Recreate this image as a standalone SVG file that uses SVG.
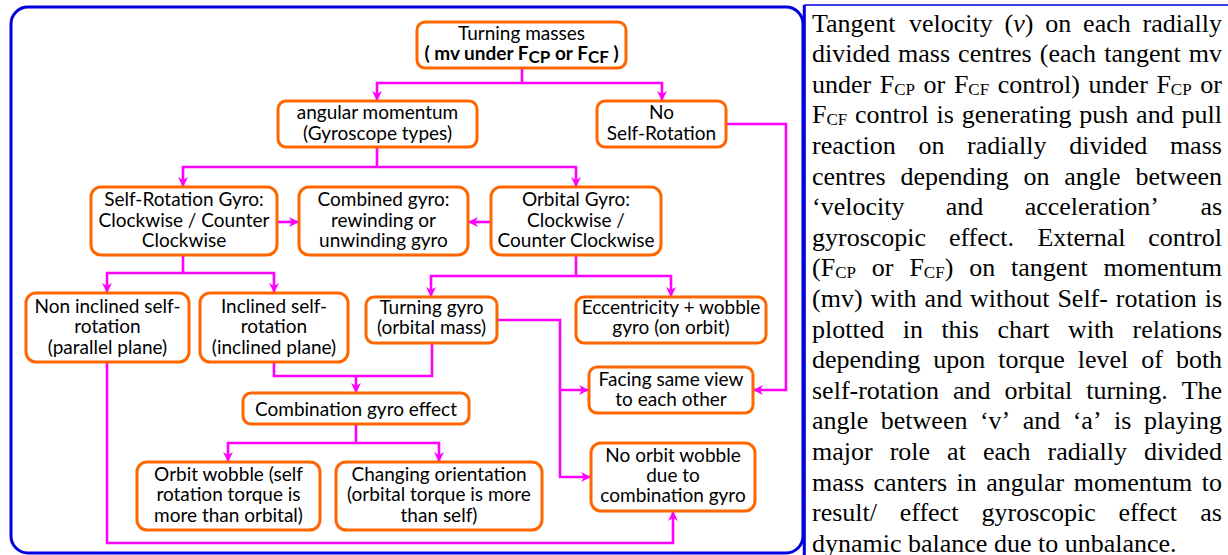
<svg xmlns="http://www.w3.org/2000/svg" width="1228" height="555" viewBox="0 0 1228 555">
<style>
.n{fill:#fff;stroke:#ff6600;stroke-width:3}
.t{font-family:Lato,"Liberation Sans",sans-serif;font-size:19px;fill:#000;text-anchor:middle}
.c{fill:none;stroke:#ff00ff;stroke-width:2.6}
.p{font-family:"Liberation Serif","Times New Roman",serif;font-size:26px;fill:#000}
.s{font-size:17px}
</style>
<defs>
<marker id="ah" markerUnits="userSpaceOnUse" viewBox="0 0 10 10" refX="9" refY="5" markerWidth="10" markerHeight="10" orient="auto">
<path d="M0,0 L10,5 L0,10 L3,5 z" fill="#ff00ff"/>
</marker>
</defs>
<rect width="1228" height="555" fill="#fff"/>
<rect x="11" y="7" width="792" height="546" rx="17" fill="none" stroke="#0000e0" stroke-width="3"/>
<rect x="805" y="5" width="430" height="560" fill="none" stroke="#0000e0" stroke-width="1.5"/>
<line x1="804" y1="5" x2="804" y2="555" stroke="#0000e0" stroke-width="2.5"/>

<g id="connectors">
<path class="c" d="M522,68 V83 H377 V100" marker-end="url(#ah)"/>
<path class="c" d="M522,83 H662 V100" marker-end="url(#ah)"/>
<path class="c" d="M377,147 V167 H183 V186" marker-end="url(#ah)"/>
<path class="c" d="M377,167 H576 V186" marker-end="url(#ah)"/>
<path class="c" d="M277,222 H298" marker-end="url(#ah)"/>
<path class="c" d="M491,222 H469" marker-end="url(#ah)"/>
<path class="c" d="M183,255 V273 H107 V292" marker-end="url(#ah)"/>
<path class="c" d="M183,273 H274 V292" marker-end="url(#ah)"/>
<path class="c" d="M576,255 V276 H431 V296" marker-end="url(#ah)"/>
<path class="c" d="M576,276 H671 V296" marker-end="url(#ah)"/>
<path class="c" d="M726,124 H786 V390 H754" marker-end="url(#ah)"/>
<path class="c" d="M497,320 H560 V390 H588" marker-end="url(#ah)"/>
<path class="c" d="M560,390 V477 H590" marker-end="url(#ah)"/>
<path class="c" d="M274,362 V376 H432 V343"/>
<path class="c" d="M356,376 V392" marker-end="url(#ah)"/>
<path class="c" d="M356,424 V443 H228 V461" marker-end="url(#ah)"/>
<path class="c" d="M356,443 H439 V461" marker-end="url(#ah)"/>
<path class="c" d="M107,362 V543 H673 V512" marker-end="url(#ah)"/>
</g>

<g id="turning-masses">
<rect class="n" x="417" y="22" width="209" height="46" rx="8"/>
<text class="t" x="521.5" y="40">Turning masses</text>
<text class="t" x="521.5" y="60" font-weight="bold">( mv under F<tspan class="s" dy="3">CP</tspan><tspan dy="-3"> or F</tspan><tspan class="s" dy="3">CF</tspan><tspan dy="-3"> )</tspan></text>
</g>
<g id="angular-momentum">
<rect class="n" x="278" y="101" width="199" height="46" rx="8"/>
<text class="t" x="377.5" y="119">angular momentum</text>
<text class="t" x="377.5" y="140">(Gyroscope types)</text>
</g>
<g id="no-self-rotation">
<rect class="n" x="597" y="101" width="129" height="46" rx="8"/>
<text class="t" x="661.5" y="119">No</text>
<text class="t" x="661.5" y="140">Self-Rotation</text>
</g>
<g id="self-rotation-gyro">
<rect class="n" x="91" y="187" width="186" height="68" rx="10"/>
<text class="t" x="184" y="206">Self-Rotation Gyro:</text>
<text class="t" x="184" y="226.5">Clockwise / Counter</text>
<text class="t" x="184" y="247">Clockwise</text>
</g>
<g id="combined-gyro">
<rect class="n" x="299" y="187" width="169" height="68" rx="10"/>
<text class="t" x="383.5" y="206">Combined gyro:</text>
<text class="t" x="383.5" y="226.5">rewinding or</text>
<text class="t" x="383.5" y="247">unwinding gyro</text>
</g>
<g id="orbital-gyro">
<rect class="n" x="491" y="187" width="170" height="68" rx="10"/>
<text class="t" x="576" y="206">Orbital Gyro:</text>
<text class="t" x="576" y="226.5">Clockwise /</text>
<text class="t" x="576" y="247">Counter Clockwise</text>
</g>
<g id="non-inclined">
<rect class="n" x="26" y="293" width="163" height="69" rx="10"/>
<text class="t" x="107.5" y="312.5">Non inclined self-</text>
<text class="t" x="107.5" y="333">rotation</text>
<text class="t" x="107.5" y="353.5">(parallel plane)</text>
</g>
<g id="inclined">
<rect class="n" x="200" y="293" width="148" height="69" rx="10"/>
<text class="t" x="274" y="312.5">Inclined self-</text>
<text class="t" x="274" y="333">rotation</text>
<text class="t" x="274" y="353.5">(inclined plane)</text>
</g>
<g id="turning-gyro">
<rect class="n" x="366" y="297" width="131" height="46" rx="8"/>
<text class="t" x="431.5" y="314">Turning gyro</text>
<text class="t" x="431.5" y="334">(orbital mass)</text>
</g>
<g id="eccentricity">
<rect class="n" x="576" y="297" width="190" height="46" rx="8"/>
<text class="t" x="671" y="314">Eccentricity + wobble</text>
<text class="t" x="671" y="334">gyro (on orbit)</text>
</g>
<g id="combination-effect">
<rect class="n" x="243" y="393" width="226" height="31" rx="8"/>
<text class="t" x="356" y="416">Combination gyro effect</text>
</g>
<g id="facing">
<rect class="n" x="589" y="367" width="164" height="46" rx="8"/>
<text class="t" x="671" y="386">Facing same view</text>
<text class="t" x="671" y="405.5">to each other</text>
</g>
<g id="orbit-wobble">
<rect class="n" x="137" y="462" width="183" height="68" rx="10"/>
<text class="t" x="228.5" y="481">Orbit wobble (self</text>
<text class="t" x="228.5" y="501">rotation torque is</text>
<text class="t" x="228.5" y="521.5">more than orbital)</text>
</g>
<g id="changing-orientation">
<rect class="n" x="336" y="462" width="206" height="68" rx="10"/>
<text class="t" x="439" y="481">Changing orientation</text>
<text class="t" x="439" y="501">(orbital torque is more</text>
<text class="t" x="439" y="521.5">than self)</text>
</g>
<g id="no-orbit-wobble">
<rect class="n" x="591" y="443" width="164" height="68" rx="10"/>
<text class="t" x="673" y="462">No orbit wobble</text>
<text class="t" x="673" y="482">due to</text>
<text class="t" x="673" y="502">combination gyro</text>
</g>

<g id="description">
<text class="p"><tspan x="812" y="31.5">Tangent</tspan><tspan x="909" y="31.5">velocity</tspan><tspan x="1004.6" y="31.5">(<tspan font-style="italic">v</tspan>)</tspan><tspan x="1045.3" y="31.5">on</tspan><tspan x="1083.1" y="31.5">each</tspan><tspan x="1142.5" y="31.5">radially</tspan></text>
<text class="p"><tspan x="812" y="62.1">divided</tspan><tspan x="898.1" y="62.1">mass</tspan><tspan x="958.1" y="62.1">centres</tspan><tspan x="1039.8" y="62.1">(each</tspan><tspan x="1104.2" y="62.1">tangent</tspan><tspan x="1188.8" y="62.1">mv</tspan></text>
<text class="p"><tspan x="812" y="92.7">under</tspan><tspan x="879.8" y="92.7">F</tspan><tspan class="s" y="94.7">CP</tspan><tspan x="923.6" y="92.7">or</tspan><tspan x="953.9" y="92.7">F</tspan><tspan class="s" y="94.7">CF</tspan><tspan x="997.7" y="92.7">control)</tspan><tspan x="1088.6" y="92.7">under</tspan><tspan x="1156.4" y="92.7">F</tspan><tspan class="s" y="94.7">CP</tspan><tspan x="1200.2" y="92.7">or</tspan></text>
<text class="p"><tspan x="812" y="123.3">F</tspan><tspan class="s" y="125.3">CF</tspan><tspan x="855" y="123.3">control</tspan><tspan x="936.5" y="123.3">is</tspan><tspan x="961.7" y="123.3">generating</tspan><tspan x="1079.2" y="123.3">push</tspan><tspan x="1136.1" y="123.3">and</tspan><tspan x="1181.5" y="123.3">pull</tspan></text>
<text class="p"><tspan x="812" y="153.9">reaction</tspan><tspan x="918.4" y="153.9">on</tspan><tspan x="967.1" y="153.9">radially</tspan><tspan x="1069.2" y="153.9">divided</tspan><tspan x="1169.9" y="153.9">mass</tspan></text>
<text class="p"><tspan x="812" y="184.5">centres</tspan><tspan x="900.4" y="184.5">depending</tspan><tspan x="1023.5" y="184.5">on</tspan><tspan x="1064.3" y="184.5">angle</tspan><tspan x="1135.4" y="184.5">between</tspan></text>
<text class="p"><tspan x="812" y="215.1">‘velocity</tspan><tspan x="945.8" y="215.1">and</tspan><tspan x="1024.7" y="215.1">acceleration’</tspan><tspan x="1200.4" y="215.1">as</tspan></text>
<text class="p"><tspan x="812" y="245.7">gyroscopic</tspan><tspan x="948.9" y="245.7">effect.</tspan><tspan x="1037.4" y="245.7">External</tspan><tspan x="1148.3" y="245.7">control</tspan></text>
<text class="p"><tspan x="812" y="276.3">(F</tspan><tspan class="s" y="278.3">CP</tspan><tspan x="871.8" y="276.3">or</tspan><tspan x="909.4" y="276.3">F</tspan><tspan class="s" y="278.3">CF</tspan><tspan y="276.3">)</tspan><tspan x="969.2" y="276.3">on</tspan><tspan x="1011.1" y="276.3">tangent</tspan><tspan x="1103.5" y="276.3">momentum</tspan></text>
<text class="p"><tspan x="812" y="306.9">(mv)</tspan><tspan x="870.4" y="306.9">with</tspan><tspan x="924.6" y="306.9">and</tspan><tspan x="970" y="306.9">without</tspan><tspan x="1057.4" y="306.9">Self-</tspan><tspan x="1115.8" y="306.9">rotation</tspan><tspan x="1204.7" y="306.9">is</tspan></text>
<text class="p"><tspan x="812" y="337.5">plotted</tspan><tspan x="902.7" y="337.5">in</tspan><tspan x="941.4" y="337.5">this</tspan><tspan x="997.4" y="337.5">chart</tspan><tspan x="1067.9" y="337.5">with</tspan><tspan x="1132.5" y="337.5">relations</tspan></text>
<text class="p"><tspan x="812" y="368.1">depending</tspan><tspan x="933.3" y="368.1">upon</tspan><tspan x="998.3" y="368.1">torque</tspan><tspan x="1077.7" y="368.1">level</tspan><tspan x="1141.2" y="368.1">of</tspan><tspan x="1175.9" y="368.1">both</tspan></text>
<text class="p"><tspan x="812" y="398.7">self-rotation</tspan><tspan x="953" y="398.7">and</tspan><tspan x="1004.4" y="398.7">orbital</tspan><tspan x="1086.2" y="398.7">turning.</tspan><tspan x="1181.7" y="398.7">The</tspan></text>
<text class="p"><tspan x="812" y="429.3">angle</tspan><tspan x="880.8" y="429.3">between</tspan><tspan x="979.9" y="429.3">‘v’</tspan><tspan x="1022.7" y="429.3">and</tspan><tspan x="1072.7" y="429.3">‘a’</tspan><tspan x="1114.1" y="429.3">is</tspan><tspan x="1143.9" y="429.3">playing</tspan></text>
<text class="p"><tspan x="812" y="459.9">major</tspan><tspan x="889.7" y="459.9">role</tspan><tspan x="947.1" y="459.9">at</tspan><tspan x="982.9" y="459.9">each</tspan><tspan x="1047.5" y="459.9">radially</tspan><tspan x="1143.9" y="459.9">divided</tspan></text>
<text class="p"><tspan x="812" y="490.5">mass</tspan><tspan x="873.5" y="490.5">canters</tspan><tspan x="956.6" y="490.5">in</tspan><tspan x="986.3" y="490.5">angular</tspan><tspan x="1073.8" y="490.5">momentum</tspan><tspan x="1201.8" y="490.5">to</tspan></text>
<text class="p"><tspan x="812" y="521.1">result/</tspan><tspan x="899.7" y="521.1">effect</tspan><tspan x="981.6" y="521.1">gyroscopic</tspan><tspan x="1118.4" y="521.1">effect</tspan><tspan x="1200.3" y="521.1">as</tspan></text>
<text class="p" x="812" y="551.7">dynamic balance due to unbalance.</text>
</g>
</svg>
